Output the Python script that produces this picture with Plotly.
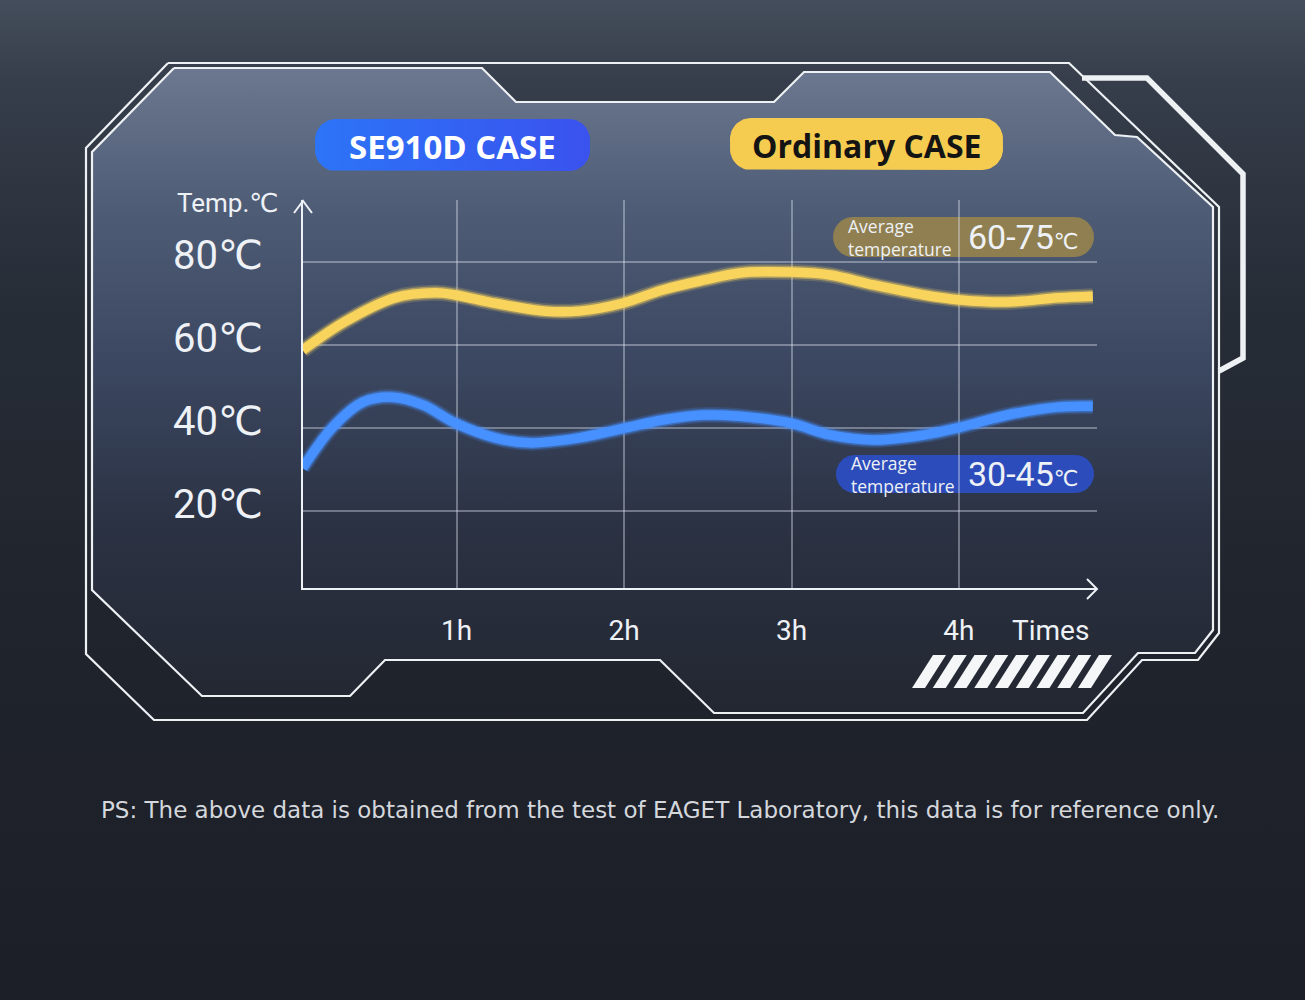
import numpy as np
import plotly.graph_objects as go

W, H = 1305, 1000

# ---------------- data ----------------
ordinary_hours = [0.08, 0.33, 0.63, 0.87, 0.99, 1.23, 1.53, 1.73, 1.99, 2.23, 2.48,
                  2.69, 2.99, 3.23, 3.49, 3.79, 4.01, 4.29, 4.59, 4.80]
ordinary_temp = [58.7, 65.5, 71.3, 72.5, 72.0, 70.0, 68.1, 68.1, 70.0, 73.2, 75.6,
                 77.3, 77.5, 76.8, 74.4, 72.0, 70.8, 70.3, 71.3, 71.7]

se910d_hours = [0.08, 0.26, 0.44, 0.62, 0.80, 0.99, 1.23, 1.43, 1.73, 2.01, 2.23,
                2.48, 2.69, 2.99, 3.23, 3.49, 3.79, 4.01, 4.29, 4.59, 4.80]
se910d_temp = [30.3, 40.2, 46.2, 47.4, 45.5, 41.2, 37.6, 36.4, 37.6, 40.0, 41.9,
               43.1, 42.8, 41.2, 38.3, 37.1, 38.3, 40.2, 43.1, 45.0, 45.2]

x_tick_vals = [1, 2, 3, 4]
x_tick_labels = ["1h", "2h", "3h", "4h"]
y_tick_vals = [20, 40, 60, 80]
y_tick_labels = ["20℃", "40℃", "60℃", "80℃"]
series_names = ["SE910D CASE", "Ordinary CASE"]
avg_label = "Average<br>temperature"
avg_ranges = ["30-45", "60-75"]
x_title = "Times"
y_title = "Temp.℃"
footnote = ("PS: The above data is obtained from the test of EAGET Laboratory, "
            "this data is for reference only.")

# ---------------- geometry (pixel calibration) ----------------
PX_X0, PX_X1 = 303, 1097
PX_Y_TOP, PX_Y_BOT = 200, 588
H0_PX, PX_PER_H = 289.3, 167.4
T0_PX, PX_PER_DEG = 594.1, 4.155
x_range = [(PX_X0 - H0_PX) / PX_PER_H, (PX_X1 - H0_PX) / PX_PER_H]
y_range = [(T0_PX - PX_Y_BOT) / PX_PER_DEG, (T0_PX - PX_Y_TOP) / PX_PER_DEG]

FONT = "Roboto, DejaVu Sans, sans-serif"
WHITE = "#eef1f5"

fig = go.Figure()


def bg_trace(xs, ys, **kw):
    d = dict(x=xs, y=ys, xaxis="x", yaxis="y", hoverinfo="skip",
             showlegend=False)
    d.update(kw)
    fig.add_trace(go.Scatter(**d))


def rounded_rect(x0, y0, x1, y1, r, n=14):
    xs, ys = [], []
    corners = [(x1 - r, y0 + r, -90, 0), (x1 - r, y1 - r, 0, 90),
               (x0 + r, y1 - r, 90, 180), (x0 + r, y0 + r, 180, 270)]
    for cx, cy, a0, a1 in corners:
        for a in np.linspace(np.radians(a0), np.radians(a1), n):
            xs.append(cx + r * np.cos(a))
            ys.append(cy + r * np.sin(a))
    xs.append(xs[0]); ys.append(ys[0])
    return xs, ys


# page background
bg_trace([0, W, W, 0, 0], [0, 0, H, H, 0], mode="lines", line=dict(width=0),
         fill="toself",
         fillgradient=dict(type="vertical", start=0, stop=H,
                           colorscale=[[0, "#444d5b"], [0.08, "#363e4b"],
                                       [0.3, "#272d37"], [0.6, "#20242d"],
                                       [1, "#1c1f27"]]))

# frame paths
outer = [(168, 63), (1069, 63), (1219, 207), (1219, 633),
         (1198, 660), (1142, 660), (1087, 720), (154, 720), (86, 654), (86, 148),
         (168, 63)]
inner = [(174, 68), (482, 68), (516, 102), (774, 102), (804, 72), (1050, 72),
         (1115, 135), (1137, 137), (1213, 207), (1213, 630), (1195, 653),
         (1138, 653), (1083, 713), (714, 713), (660, 660), (385, 660), (350, 696),
         (202, 696), (92, 590), (92, 152), (174, 68)]
bracket = [(1082, 78), (1147, 78), (1243, 174), (1243, 358), (1219, 371)]

# panel fill
bg_trace([p[0] for p in inner], [p[1] for p in inner], mode="lines",
         line=dict(width=0), fill="toself",
         fillgradient=dict(type="vertical", start=63, stop=720,
                           colorscale=[[0, "#6c7990"], [0.22, "#4f5c76"],
                                       [0.45, "#3c4862"], [0.7, "#2b3243"],
                                       [1, "#222630"]]))

for path, w in [(outer, 2.2), (inner, 2.2), (bracket, 5.5)]:
    bg_trace([p[0] for p in path], [p[1] for p in path], mode="lines",
             line=dict(color="#eef1f4", width=w))

# stripes
for i in range(9):
    xt = 933 + i * 20.75
    bg_trace([xt, xt + 13, xt - 8, xt - 21, xt], [655, 655, 688, 688, 655],
             mode="lines", line=dict(width=0), fill="toself", fillcolor="#f4f6f8")

# header badges
bx, by = rounded_rect(315, 119, 590, 171, 21)
bg_trace(bx, by, mode="lines", line=dict(width=0), fill="toself",
         fillgradient=dict(type="horizontal", start=315, stop=590,
                           colorscale=[[0, "#2c74f7"], [1, "#3a52ee"]]))
yx, yy = rounded_rect(730, 118, 1003, 170, 21)
bg_trace(yx, yy, mode="lines", line=dict(width=0), fill="toself",
         fillcolor="#f6cc50")

# average temperature pills
px1, py1 = rounded_rect(833, 217, 1094, 257, 20)
bg_trace(px1, py1, mode="lines", line=dict(width=0), fill="toself",
         fillcolor="rgba(146,128,80,0.97)")
px2, py2 = rounded_rect(836, 455, 1094, 493, 19)
bg_trace(px2, py2, mode="lines", line=dict(width=0), fill="toself",
         fillcolor="rgba(44,78,196,0.92)")

# axis arrows
bg_trace([294, 303, 312], [213, 201, 213], mode="lines",
         line=dict(color=WHITE, width=2))
bg_trace([1087, 1097, 1087], [579, 589, 599], mode="lines",
         line=dict(color=WHITE, width=2))


# ---------------- chart traces ----------------
def curve(xs, ys, core, name):
    for w, op in [(16, 0.18), (12.5, 0.45)]:
        fig.add_trace(go.Scatter(x=xs, y=ys, mode="lines",
                                 line=dict(color=core, width=w, shape="spline", smoothing=1.0),
                                 opacity=op, xaxis="x2", yaxis="y2",
                                 hoverinfo="skip", showlegend=False))
    fig.add_trace(go.Scatter(x=xs, y=ys, mode="lines", name=name,
                             line=dict(color=core, width=9.5, shape="spline", smoothing=1.0),
                             xaxis="x2", yaxis="y2", showlegend=False))


curve(ordinary_hours, ordinary_temp, "#f8d45c", series_names[1])
curve(se910d_hours, se910d_temp, "#4690ff", series_names[0])

# ---------------- annotations ----------------
ann = []


def txt(x, y, text, size, color=WHITE, family=FONT, xanchor="center", **kw):
    d = dict(x=x, y=y, xref="x", yref="y", text=text, showarrow=False,
             font=dict(size=size, color=color, family=family),
             xanchor=xanchor, yanchor="middle")
    d.update(kw)
    ann.append(d)


txt(452, 146, "<b>" + series_names[0] + "</b>", 33, "#ffffff",
    "Open Sans, sans-serif")
txt(866, 145, "<b>" + series_names[1] + "</b>", 32, "#141414",
    "Open Sans, sans-serif")
txt(228, 203, y_title, 26)
txt(1050, 630, x_title, 28)

for (x0, yc), rng in [((846, 237), avg_ranges[1]), ((849, 474), avg_ranges[0])]:
    txt(x0, yc, avg_label, 17.5, family="Open Sans, sans-serif",
        xanchor="left", align="left")
    txt(966, yc, rng + "<span style='font-size:22px'>℃</span>", 34,
        xanchor="left")

txt(660, 810, footnote, 23, "#d4d7dc", "DejaVu Sans, sans-serif")

fig.update_layout(
    width=W, height=H, autosize=False,
    margin=dict(l=0, r=0, t=0, b=0),
    paper_bgcolor="#1e2129", plot_bgcolor="rgba(0,0,0,0)",
    annotations=ann,
    xaxis=dict(domain=[0, 1], range=[0, W], visible=False, fixedrange=True),
    yaxis=dict(domain=[0, 1], range=[H, 0], visible=False, fixedrange=True),
    xaxis2=dict(domain=[PX_X0 / W, PX_X1 / W], anchor="y2", range=x_range,
                tickvals=x_tick_vals, ticktext=x_tick_labels,
                showgrid=True, gridcolor="rgba(225,232,242,0.38)", gridwidth=1.6,
                showline=True, linecolor=WHITE, linewidth=2, zeroline=False,
                ticks="", ticklabelstandoff=16,
                tickfont=dict(size=28, color=WHITE, family=FONT)),
    yaxis2=dict(domain=[1 - PX_Y_BOT / H, 1 - PX_Y_TOP / H], anchor="x2",
                range=y_range, tickvals=y_tick_vals, ticktext=y_tick_labels,
                showgrid=True, gridcolor="rgba(225,232,242,0.38)", gridwidth=1.6,
                showline=True, linecolor=WHITE, linewidth=2, zeroline=False,
                ticks="", ticklabelstandoff=30, ticklabelshift=-7,
                tickfont=dict(size=40, color=WHITE, family=FONT)),
    showlegend=False,
)

fig.write_html("out.html",
               config={"displayModeBar": False},
               post_script="document.body.style.margin='0';"
                           "document.body.style.overflow='hidden';")
